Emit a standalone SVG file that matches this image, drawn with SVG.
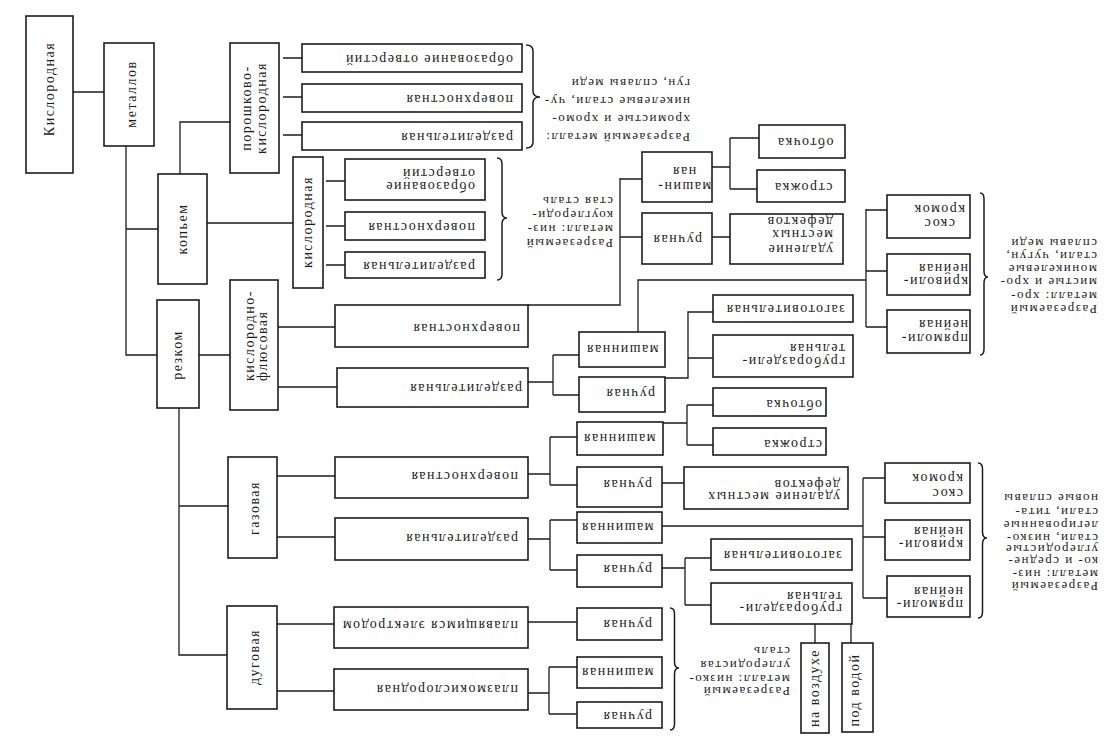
<svg xmlns="http://www.w3.org/2000/svg" width="1104" height="750" viewBox="0 0 1104 750">
<style>
.b{fill:none;stroke:#1c1c1c;stroke-width:1.6}
.c{fill:none;stroke:#1c1c1c;stroke-width:1.3}
.br{fill:none;stroke:#1c1c1c;stroke-width:1.5}
.t{font-family:"Liberation Serif","DejaVu Serif",serif;font-size:14px;letter-spacing:1.5px;fill:#1c1c1c}
.s{font-family:"Liberation Serif","DejaVu Serif",serif;font-size:13px;letter-spacing:1.5px;fill:#1c1c1c}
.m{text-anchor:middle}
</style>
<rect width="1104" height="750" fill="#ffffff"/>
<g id="connectors">
<path class="c" d="M73 92H104 M126 146V355H157 M126 229H158 M180 174V122H230 M207 223H293 M199 355H230 M179 408V655H227 M179 506H228"/>
<path class="c" d="M283 58H302 M283 97H302 M283 135H302 M326 181H345 M326 226H345 M326 265H345"/>
<path class="c" d="M528 305H620V178 M620 179H642 M620 237H642 M712 167H730 M730 138V189 M730 138H759 M730 189H757 M712 237H730"/>
<path class="c" d="M638 332V280H866 M866 209V327 M866 210H887 M866 271H887 M866 327H887"/>
<path class="c" d="M278 327H335 M278 387H337 M528 382H553 M553 355V395 M553 355H579 M553 395H579 M665 378H688V312H713 M688 358H713"/>
<path class="c" d="M277 476H335 M277 537H335 M528 474H550 M550 437V485 M550 437H577 M550 485H577 M528 539H550 M550 520V570 M550 520H577 M550 570H577"/>
<path class="c" d="M663 423H687 M687 405V445 M687 405H713 M687 445H713 M662 483H684 M662 526H863 M863 478V598 M863 478H885 M863 537H885 M863 598H887 M662 568H685 M685 558V605 M685 558H711 M685 605H711 M815 624V643 M851 624V643"/>
<path class="c" d="M277 624H334 M277 691H334 M528 622H577 M528 693H549 M549 667V714 M549 667H577 M549 714H577"/>
</g>
<g id="braces">
<path class="br" d="M526 45Q533 45 533 51L533 91Q533 97 540 97Q533 97 533 103L533 142Q533 148 526 148"/>
<path class="br" d="M497 158Q502 158 502 164L502 212Q502 218 507 218Q502 218 502 224L502 274Q502 280 497 280"/>
<path class="br" d="M980 193Q984 193 984 199L984 271Q984 277 988 277Q984 277 984 283L984 349Q984 355 980 355"/>
<path class="br" d="M978 463Q982.5 463 982.5 469L982.5 532Q982.5 538 987 538Q982.5 538 982.5 544L982.5 612Q982.5 618 978 618"/>
<path class="br" d="M670 608Q674.5 608 674.5 614L674.5 662Q674.5 668 679 668Q674.5 668 674.5 674L674.5 724Q674.5 730 670 730"/>
</g>
<g id="n_kislorodnaya"><rect class="b" x="26" y="16" width="47" height="157"/><text class="t m" transform="translate(53.5,89) rotate(-90)">Кислородная</text></g>
<g id="n_metallov"><rect class="b" x="104" y="43" width="50" height="103"/><text class="t m" transform="translate(135.5,94) rotate(-90)">металлов</text></g>
<g id="n_kopyem"><rect class="b" x="158" y="174" width="49" height="110"/><text class="t m" transform="translate(186.5,229) rotate(-90)">копьем</text></g>
<g id="n_rezkom"><rect class="b" x="157" y="300" width="42" height="108"/><text class="t m" transform="translate(182,355) rotate(-90)">резком</text></g>
<g id="n_poroshkovo"><rect class="b" x="230" y="43" width="49" height="130"/><text class="t m" transform="translate(250.5,108) rotate(-90)">порошково-</text><text class="t m" transform="translate(265.5,108) rotate(-90)">кислородная</text></g>
<g id="n_kislorodnaya2"><rect class="b" x="293" y="157" width="30" height="131"/><text class="t m" transform="translate(311.5,222) rotate(-90)">кислородная</text></g>
<g id="n_kf"><rect class="b" x="230" y="280" width="48" height="130"/><text class="t" transform="translate(253.5,381) rotate(-90)">кислородно-</text><text class="t" transform="translate(266.5,381) rotate(-90)">флюсовая</text></g>
<g id="n_gazovaya"><rect class="b" x="228" y="457" width="49" height="101"/><text class="t m" transform="translate(258.5,508) rotate(-90)">газовая</text></g>
<g id="n_dugovaya"><rect class="b" x="227" y="606" width="50" height="103"/><text class="t m" transform="translate(258.5,657) rotate(-90)">дуговая</text></g>
<g id="p1"><rect class="b" x="302" y="44" width="220" height="28"/><text class="t" transform="translate(513,54.5) rotate(180)">образование отверстий</text></g>
<g id="p2"><rect class="b" x="302" y="84" width="220" height="28"/><text class="t" transform="translate(513,94.5) rotate(180)">поверхностная</text></g>
<g id="p3"><rect class="b" x="302" y="122" width="220" height="28"/><text class="t" transform="translate(513,132.5) rotate(180)">разделительная</text></g>
<g id="k1"><rect class="b" x="345" y="159" width="140" height="41"/><text class="t" transform="translate(475,181.5) rotate(180)">образование</text><text class="t" transform="translate(475,168.5) rotate(180)">отверстий</text></g>
<g id="k2"><rect class="b" x="345" y="212" width="140" height="28"/><text class="t" transform="translate(475,222.5) rotate(180)">поверхностная</text></g>
<g id="k3"><rect class="b" x="345" y="252" width="140" height="26"/><text class="t" transform="translate(475,261.5) rotate(180)">разделительная</text></g>
<g id="m1"><rect class="b" x="642" y="152" width="70" height="50"/><text class="t m" transform="translate(684,181.5) rotate(180)">машин-</text><text class="t m" transform="translate(684,166.5) rotate(180)">ная</text></g>
<g id="m2"><rect class="b" x="642" y="213" width="70" height="51"/><text class="t m" transform="translate(677,234.5) rotate(180)">ручная</text></g>
<g id="m3"><rect class="b" x="759" y="125" width="86" height="33"/><text class="t m" transform="translate(805,137.5) rotate(180)">обточка</text></g>
<g id="m4"><rect class="b" x="757" y="170" width="88" height="32"/><text class="t m" transform="translate(803,182.5) rotate(180)">строжка</text></g>
<g id="m5"><rect class="b" x="730" y="214" width="113" height="50"/><text class="t" transform="translate(833,244.5) rotate(180)">удаление</text><text class="t" transform="translate(833,229.5) rotate(180)">местных</text><text class="t" transform="translate(833,216.5) rotate(180)">дефектов</text></g>
<g id="r1"><rect class="b" x="887" y="195" width="83" height="43"/><text class="t m" transform="translate(939,218.5) rotate(180)">скос</text><text class="t m" transform="translate(939,204.5) rotate(180)">кромок</text></g>
<g id="r2"><rect class="b" x="887" y="254" width="83" height="41"/><text class="t" transform="translate(968,276.5) rotate(180)">криволи-</text><text class="t" transform="translate(968,263.5) rotate(180)">нейная</text></g>
<g id="r3"><rect class="b" x="887" y="310" width="83" height="43"/><text class="t" transform="translate(968,333.5) rotate(180)">прямоли-</text><text class="t" transform="translate(968,319.5) rotate(180)">нейная</text></g>
<g id="f1"><rect class="b" x="335" y="305" width="193" height="42"/><text class="t" transform="translate(520,323.5) rotate(180)">поверхностная</text></g>
<g id="f2"><rect class="b" x="337" y="368" width="191" height="39"/><text class="t" transform="translate(522,383.5) rotate(180)">разделительная</text></g>
<g id="f3"><rect class="b" x="579" y="332" width="86" height="35"/><text class="t m" transform="translate(622,344.5) rotate(180)">машинная</text></g>
<g id="f4"><rect class="b" x="579" y="377" width="86" height="35"/><text class="t" transform="translate(655,388.5) rotate(180)">ручная</text></g>
<g id="f5"><rect class="b" x="713" y="295" width="140" height="27"/><text class="t m" transform="translate(785,304.5) rotate(180)">заготовительная</text></g>
<g id="f6"><rect class="b" x="713" y="335" width="140" height="42"/><text class="t" transform="translate(845,356.5) rotate(180)">грубораздели-</text><text class="t" transform="translate(845,343.5) rotate(180)">тельная</text></g>
<g id="g1"><rect class="b" x="335" y="457" width="193" height="41"/><text class="t" transform="translate(518,472) rotate(180)">поверхностная</text></g>
<g id="g2"><rect class="b" x="335" y="518" width="193" height="42"/><text class="t" transform="translate(518,533.5) rotate(180)">разделительная</text></g>
<g id="g3"><rect class="b" x="577" y="422" width="86" height="33"/><text class="t m" transform="translate(619,433.5) rotate(180)">машинная</text></g>
<g id="g4"><rect class="b" x="713" y="388" width="113" height="28"/><text class="t" transform="translate(822,399.5) rotate(180)">обточка</text></g>
<g id="g5"><rect class="b" x="713" y="428" width="113" height="27"/><text class="t" transform="translate(822,439.5) rotate(180)">строжка</text></g>
<g id="g6"><rect class="b" x="577" y="467" width="85" height="40"/><text class="t m" transform="translate(627,479.5) rotate(180)">ручная</text></g>
<g id="g7"><rect class="b" x="684" y="467" width="164" height="42"/><text class="t" transform="translate(840,491.5) rotate(180)">удаление местных</text><text class="t" transform="translate(840,479.5) rotate(180)">дефектов</text></g>
<g id="g8"><rect class="b" x="577" y="512" width="85" height="31"/><text class="t m" transform="translate(617,522.5) rotate(180)">машинная</text></g>
<g id="g9"><rect class="b" x="577" y="555" width="85" height="32"/><text class="t m" transform="translate(627,564.5) rotate(180)">ручная</text></g>
<g id="g10"><rect class="b" x="711" y="539" width="141" height="31"/><text class="t m" transform="translate(782,550.5) rotate(180)">заготовительная</text></g>
<g id="g11"><rect class="b" x="711" y="583" width="141" height="41"/><text class="t" transform="translate(842,603.5) rotate(180)">грубораздели-</text><text class="t" transform="translate(842,591.5) rotate(180)">тельная</text></g>
<g id="g12"><rect class="b" x="801" y="643" width="28" height="90"/><text class="t m" transform="translate(818.5,688) rotate(-90)">на воздухе</text></g>
<g id="g13"><rect class="b" x="842" y="643" width="31" height="89"/><text class="t m" transform="translate(858.5,690) rotate(-90)">под водой</text></g>
<g id="g14"><rect class="b" x="885" y="463" width="85" height="40"/><text class="t" transform="translate(963,488.5) rotate(180)">скос</text><text class="t" transform="translate(963,473.5) rotate(180)">кромок</text></g>
<g id="g15"><rect class="b" x="885" y="520" width="85" height="40"/><text class="t" transform="translate(963,539.5) rotate(180)">криволи-</text><text class="t" transform="translate(963,526.5) rotate(180)">нейная</text></g>
<g id="g16"><rect class="b" x="887" y="576" width="83" height="41"/><text class="t" transform="translate(963,599.5) rotate(180)">прямоли-</text><text class="t" transform="translate(963,586.5) rotate(180)">нейная</text></g>
<g id="d1"><rect class="b" x="334" y="607" width="194" height="41"/><text class="t" transform="translate(518,620.5) rotate(180)">плавящимся электродом</text></g>
<g id="d2"><rect class="b" x="334" y="669" width="194" height="41"/><text class="t" transform="translate(518,684.5) rotate(180)">плазмокислородная</text></g>
<g id="d3"><rect class="b" x="577" y="608" width="85" height="32"/><text class="t m" transform="translate(627,619.5) rotate(180)">ручная</text></g>
<g id="d4"><rect class="b" x="577" y="657" width="85" height="31"/><text class="t m" transform="translate(617,667.5) rotate(180)">машинная</text></g>
<g id="d5"><rect class="b" x="577" y="702" width="85" height="26"/><text class="t m" transform="translate(627,711.5) rotate(180)">ручная</text></g>
<g id="notes">
<text class="s" transform="translate(690,132.8) rotate(180)">Разрезаемый металл:</text>
<text class="s" transform="translate(690,114.8) rotate(180)">хромистые и хромо-</text>
<text class="s" transform="translate(690,96.8) rotate(180)">никелевые стали, чу-</text>
<text class="s" transform="translate(690,78.8) rotate(180)">гун, сплавы меди</text>
<text class="s" transform="translate(613,238.8) rotate(180)">Разрезаемый</text>
<text class="s" transform="translate(613,224.8) rotate(180)">металл: низ-</text>
<text class="s" transform="translate(613,210.8) rotate(180)">коуглероди-</text>
<text class="s" transform="translate(613,196.8) rotate(180)">стая сталь</text>
<text class="s" transform="translate(1097,304.8) rotate(180)">Разрезаемый</text>
<text class="s" transform="translate(1097,291.8) rotate(180)">металл: хро-</text>
<text class="s" transform="translate(1097,277.8) rotate(180)">мистые и хро-</text>
<text class="s" transform="translate(1097,264.8) rotate(180)">моникелевые</text>
<text class="s" transform="translate(1097,251.8) rotate(180)">стали, чугун,</text>
<text class="s" transform="translate(1097,238.8) rotate(180)">сплавы меди</text>
<text class="s" transform="translate(1098,581.8) rotate(180)">Разрезаемый</text>
<text class="s" transform="translate(1098,569.8) rotate(180)">металл: низ-</text>
<text class="s" transform="translate(1098,556.8) rotate(180)">ко- и средне-</text>
<text class="s" transform="translate(1098,544.8) rotate(180)">углеродистые</text>
<text class="s" transform="translate(1098,533.8) rotate(180)">стали, низко-</text>
<text class="s" transform="translate(1098,520.8) rotate(180)">легированные</text>
<text class="s" transform="translate(1098,507.8) rotate(180)">стали, тита-</text>
<text class="s" transform="translate(1098,493.8) rotate(180)">новые сплавы</text>
<text class="s" transform="translate(790,686.8) rotate(180)">Разрезаемый</text>
<text class="s" transform="translate(790,674.8) rotate(180)">металл: низко-</text>
<text class="s" transform="translate(790,660.8) rotate(180)">углеродистая</text>
<text class="s" transform="translate(790,646.8) rotate(180)">сталь</text>
</g>
</svg>
